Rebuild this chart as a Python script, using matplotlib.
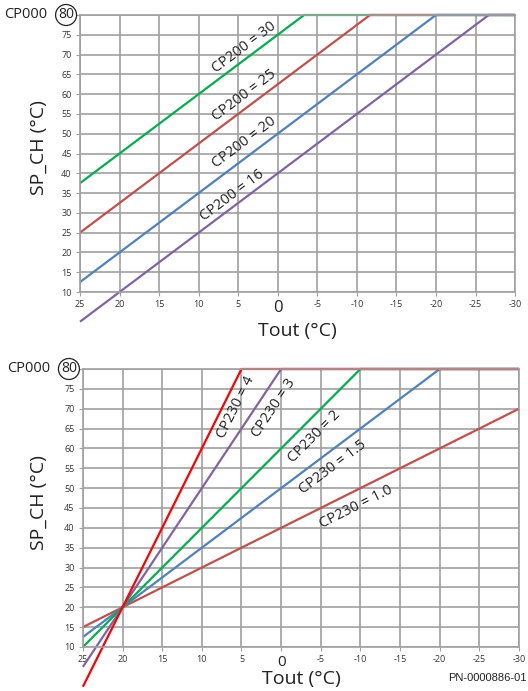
import matplotlib
matplotlib.use('Agg')
import matplotlib.pyplot as plt
import numpy as np

plt.rcParams['font.family'] = ['Open Sans', 'DejaVu Sans']

# outdoor temperature ticks shared by both charts
xticks = [25, 20, 15, 10, 5, 0, -5, -10, -15, -20, -25, -30]
yticks = [10, 15, 20, 25, 30, 35, 40, 45, 50, 55, 60, 65, 70, 75, 80]

# top chart: CP200 curves, (Tout, SP_CH) corner points
cp200_names = ['CP200 = 30', 'CP200 = 25', 'CP200 = 20', 'CP200 = 16']
cp200_x = [[25, -3.33, -30], [25, -11.67, -30], [25, -20, -30], [25, -26.67, -30]]
cp200_y = [[37.5, 80, 80], [25, 80, 80], [12.5, 80, 80], [2.5, 80, 80]]
cp200_colors = ['#00b04f', '#c0504d', '#4f81bd', '#8064a2']
cp200_lab_x = [4.2, 4.2, 4.2, 5.8]
cp200_lab_y = [71.7, 59.8, 47.7, 34.5]

# bottom chart: CP230 curves
cp230_names = ['CP230 = 1.0', 'CP230 = 1.5', 'CP230 = 2', 'CP230 = 3', 'CP230 = 4']
cp230_x = [[25, -30], [25, -20, -30], [25, -10, -30], [25, 0, -30], [25, 5, -30]]
cp230_y = [[15, 70], [12.5, 80, 80], [10, 80, 80], [5, 80, 80], [0, 80, 80]]
cp230_colors = ['#c0504d', '#4f81bd', '#00b04f', '#8064a2', '#ff0000']
cp230_lab_x = [-9.5, -6.5, -4.15, 0.9, 5.65]
cp230_lab_y = [45.2, 55.3, 62.9, 70.2, 70.4]
cp230_slopes = [1.0, 1.5, 2.0, 3.0, 4.0]

fig = plt.figure(figsize=(5.28, 6.91), dpi=100)
ax1 = fig.add_axes([0.1515, 0.5774, 0.824, 0.4009])
ax2 = fig.add_axes([0.157, 0.0637, 0.826, 0.4023])

grid_c = '#a0a0a0'


def style(ax, zero_size):
    ax.set_xlim(25, -30)
    ax.set_ylim(10, 80)
    ax.set_xticks(xticks)
    ax.set_yticks(yticks)
    ax.grid(True, color=grid_c, linewidth=1.2)
    ax.set_axisbelow(True)
    for s in ax.spines.values():
        s.set_color(grid_c)
        s.set_linewidth(1.2)
    ax.tick_params(length=3, color=grid_c, labelsize=6.5, labelcolor='#333333', pad=3)
    ax.set_xticklabels([str(v) for v in xticks])
    ax.set_yticklabels(['' if v == 80 else str(v) for v in yticks])
    for lab in ax.get_xticklabels():
        if lab.get_text() == '0':
            lab.set_fontsize(zero_size)
            lab.set_color('#222222')
    ax.set_ylabel('SP_CH (°C)', fontsize=14, color='#222222')
    ax.set_xlabel('Tout (°C)', fontsize=14, color='#222222')
    ax.text(-0.032, 80, '80', transform=ax.get_yaxis_transform(), ha='center', va='center',
            fontsize=10, color='#222222',
            bbox=dict(boxstyle='circle,pad=0.18', fc='white', ec='#222222', lw=0.9))
    ax.text(-0.076, 80, 'CP000', transform=ax.get_yaxis_transform(), ha='right', va='center',
            fontsize=10.5, color='#222222')


def angle(ax, slope):
    # on-screen angle of a line with given data slope (x axis reversed)
    p0 = ax.transData.transform((0, 0))
    p1 = ax.transData.transform((-1, slope))
    return np.degrees(np.arctan2(p1[1] - p0[1], p1[0] - p0[0]))


style(ax1, 12)
style(ax2, 11)
ax1.yaxis.set_label_coords(-0.074, 0.52)
ax2.yaxis.set_label_coords(-0.08, 0.518)
ax1.xaxis.set_label_coords(0.5, -0.108)
ax2.xaxis.set_label_coords(0.5, -0.083)

for xs, ys, c in zip(cp200_x, cp200_y, cp200_colors):
    ax1.plot(xs, ys, color=c, linewidth=1.6, clip_on=False, solid_capstyle='butt')
for n, lx, ly in zip(cp200_names, cp200_lab_x, cp200_lab_y):
    ax1.text(lx, ly, n, rotation=angle(ax1, 1.5), ha='center', va='center',
             rotation_mode='anchor', fontsize=10.5, color='#222222')

for xs, ys, c in zip(cp230_x, cp230_y, cp230_colors):
    ax2.plot(xs, ys, color=c, linewidth=1.6, clip_on=False, solid_capstyle='butt')
for n, lx, ly, s in zip(cp230_names, cp230_lab_x, cp230_lab_y, cp230_slopes):
    ax2.text(lx, ly, n, rotation=angle(ax2, s), ha='center', va='center',
             rotation_mode='anchor', fontsize=10.5, color='#222222')

fig.text(0.998, 0.012, 'PN-0000886-01', ha='right', va='bottom', fontsize=8,
         family='Liberation Sans', color='#222222')

fig.savefig('out.png', dpi=100)
